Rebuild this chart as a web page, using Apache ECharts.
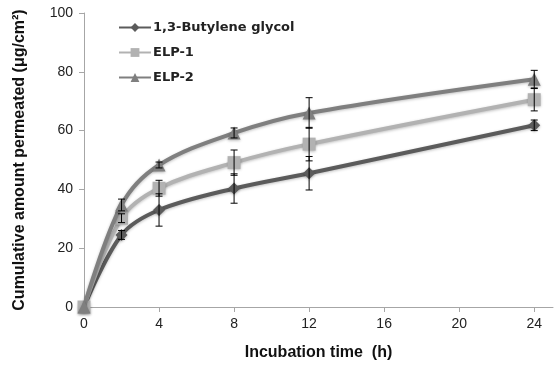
<!DOCTYPE html>
<html><head><meta charset="utf-8">
<script src="https://cdn.jsdelivr.net/npm/echarts@6/dist/echarts.min.js"></script>
<style>html,body{margin:0;padding:0;background:#fff}#c{width:556px;height:366px}</style>
</head><body><div id="c"></div>
<script>
const hours = [0, 2, 4, 8, 12, 24];
const xTicks = [0, 4, 8, 12, 16, 20, 24];
const seriesNames = ['1,3-Butylene glycol', 'ELP-1', 'ELP-2'];
const butylene = [0, 24.5, 33, 40.3, 45.5, 61.8];
const elp1 = [0, 30.2, 40.4, 49.1, 55.4, 70.5];
const elp2 = [0, 34.7, 48.3, 59.2, 66, 77.5];
const butyleneErr = [0, 1.5, 5.5, 5, 5.7, 1.8];
const elp1Err = [0, 1.5, 2.7, 4.3, 5.7, 3.8];
const elp2Err = [0, 2, 1, 1.7, 5.2, 3];

const colors = ['#5b5b5b', '#b2b2b2', '#7f7f7f'];
const symbols = ['diamond', 'rect', 'triangle'];
const sizes = [12, 13, 13];
const vals = [butylene, elp1, elp2];
const errs = [butyleneErr, elp1Err, elp2Err];

const chart = echarts.init(document.getElementById('c'));
const lineSeries = vals.map((v, i) => ({
  name: seriesNames[i],
  type: 'line',
  smooth: 0.35,
  data: hours.map((h, k) => [h, v[k]]),
  symbol: symbols[i],
  symbolSize: sizes[i],
  lineStyle: { width: 4, color: colors[i], shadowColor: 'rgba(0,0,0,0.25)', shadowBlur: 3, shadowOffsetY: 1 },
  itemStyle: { color: colors[i], shadowColor: 'rgba(0,0,0,0.3)', shadowBlur: 3, shadowOffsetY: 1 },
  z: 2 + i
}));
const errSeries = vals.map((v, i) => ({
  type: 'custom',
  silent: true,
  z: 10,
  data: hours.map((h, k) => [h, v[k] - errs[i][k], v[k] + errs[i][k]]).filter((d, k) => errs[i][k] > 0),
  renderItem: function (params, api) {
    const lo = api.coord([api.value(0), api.value(1)]);
    const hi = api.coord([api.value(0), api.value(2)]);
    const w = 3.5;
    const st = { stroke: '#000', lineWidth: 1 };
    return { type: 'group', children: [
      { type: 'line', shape: { x1: lo[0], y1: lo[1], x2: hi[0], y2: hi[1] }, style: st },
      { type: 'line', shape: { x1: lo[0] - w, y1: lo[1], x2: lo[0] + w, y2: lo[1] }, style: st },
      { type: 'line', shape: { x1: hi[0] - w, y1: hi[1], x2: hi[0] + w, y2: hi[1] }, style: st }
    ]};
  }
}));

chart.setOption({
  animation: false,
  grid: { left: 84, right: 3, top: 13, bottom: 59 },
  legend: {
    data: seriesNames,
    orient: 'vertical',
    left: 113, top: 16,
    itemWidth: 32, itemHeight: 11, itemGap: 12,
    textStyle: { fontFamily: 'DejaVu Sans', fontWeight: 'bold', fontSize: 13, color: '#222', padding: [0, 0, 0, -3] }
  },
  xAxis: {
    type: 'value', min: 0, max: 25, interval: 4,
    name: 'Incubation time  (h)', nameLocation: 'middle', nameGap: 38,
    nameTextStyle: { fontFamily: 'Liberation Sans', fontWeight: 'bold', fontSize: 16, color: '#111' },
    axisLine: { lineStyle: { color: '#a6a6a6', width: 1 } },
    axisTick: { show: true, length: 5, customValues: xTicks, lineStyle: { color: '#a6a6a6' } },
    axisLabel: { customValues: xTicks, margin: 10, fontFamily: 'Liberation Sans', fontSize: 14, color: '#222' },
    splitLine: { show: false }
  },
  yAxis: {
    type: 'value', min: 0, max: 100, interval: 20,
    name: 'Cumulative amount permeated (μg/cm²)', nameLocation: 'middle', nameGap: 56,
    nameTextStyle: { fontFamily: 'Liberation Sans', fontWeight: 'bold', fontSize: 16, color: '#111' },
    axisLine: { show: true, lineStyle: { color: '#a6a6a6', width: 1 } },
    axisTick: { show: true, length: 5, lineStyle: { color: '#a6a6a6' } },
    axisLabel: { margin: 11, fontFamily: 'Liberation Sans', fontSize: 14, color: '#222' },
    splitLine: { show: false }
  },
  series: lineSeries.concat(errSeries)
});
</script></body></html>
